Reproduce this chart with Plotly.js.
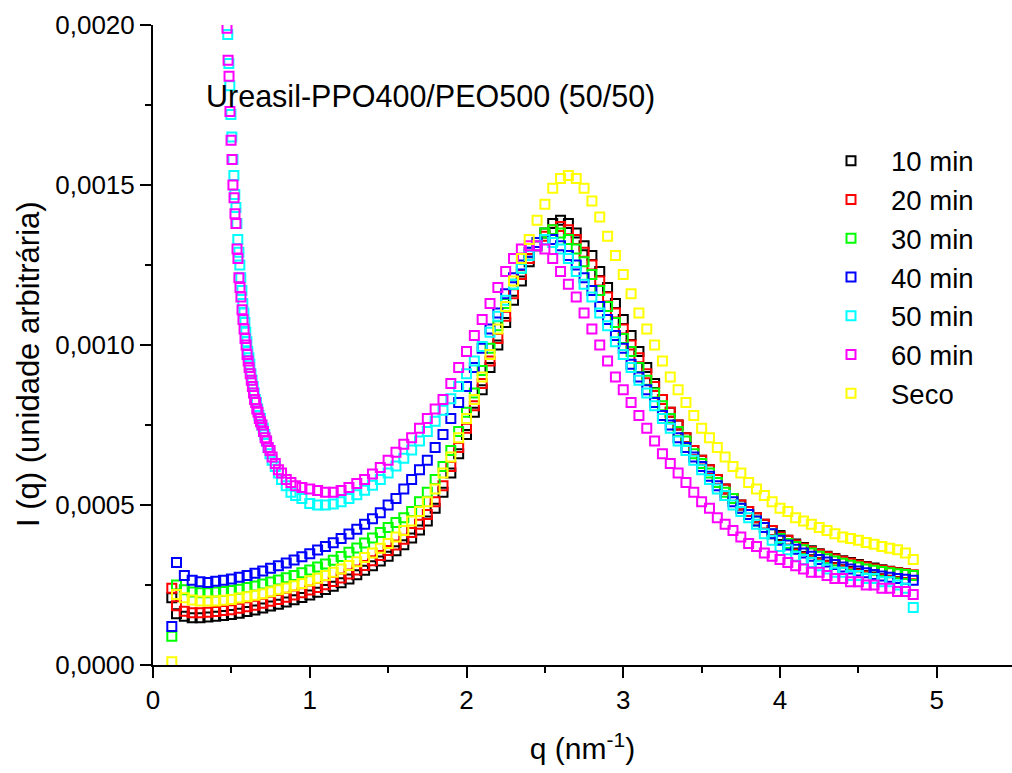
<!DOCTYPE html>
<html><head><meta charset="utf-8">
<script src="https://cdn.plot.ly/plotly-3.0.1.min.js"></script>
<style>body{margin:0;background:#fff}#chart{width:1012px;height:773px}</style>
</head><body><div id="chart"></div>
<script>
// common q grid (nm^-1)
const q = [0.12,0.15,0.20,0.25,0.30,0.35,0.40,0.45,0.50,0.55,
 0.60,0.65,0.70,0.75,0.80,0.85,0.90,0.95,1.00,1.05,
 1.10,1.15,1.20,1.25,1.30,1.35,1.40,1.45,1.50,1.55,
 1.60,1.65,1.70,1.75,1.80,1.85,1.90,1.95,2.00,2.05,
 2.10,2.15,2.20,2.25,2.30,2.35,2.40,2.45,2.50,2.55,
 2.60,2.65,2.70,2.75,2.80,2.85,2.90,2.95,3.00,3.05,
 3.10,3.15,3.20,3.25,3.30,3.35,3.40,3.45,3.50,3.55,
 3.60,3.65,3.70,3.75,3.80,3.85,3.90,3.95,4.00,4.05,
 4.10,4.15,4.20,4.25,4.30,4.35,4.40,4.45,4.50,4.55,
 4.60,4.65,4.70,4.75,4.80,4.85];

const min10 = [0.00021,0.00016,0.000152,0.000148,0.000148,0.00015,0.000152,0.000155,0.000158,0.000162,
 0.000167,0.000172,0.000178,0.000184,0.00019,0.000197,0.000204,0.000211,0.000219,0.000227,
 0.000236,0.000246,0.000257,0.000269,0.000282,0.000296,0.00031,0.000325,0.00034,0.000357,
 0.000376,0.000397,0.000422,0.00045,0.00049,0.00054,0.0006,0.00066,0.00072,0.00079,
 0.00086,0.00093,0.001,0.00107,0.00114,0.0012,0.00126,0.00131,0.00135,0.00138,
 0.00139,0.00138,0.00135,0.00131,0.00128,0.00123,0.00118,0.00113,0.00108,0.00103,
 0.00098,0.00093,0.00088,0.00083,0.00079,0.00075,0.00071,0.00067,0.00064,0.00061,
 0.00058,0.00055,0.00052,0.0005,0.00048,0.00046,0.00044,0.00042,0.000405,0.00039,
 0.000378,0.000367,0.000357,0.000348,0.00034,0.000333,0.000326,0.00032,0.000314,0.000308,
 0.000303,0.000298,0.000293,0.000289,0.000285,0.00028];

const min20 = [0.00024,0.000185,0.000168,0.000163,0.000163,0.000165,0.000167,0.00017,0.000173,0.000177,
 0.000182,0.000187,0.000193,0.000199,0.000205,0.000212,0.000219,0.000226,0.000234,0.000242,
 0.000251,0.000261,0.000272,0.000284,0.000297,0.000311,0.000326,0.000342,0.000358,0.000375,
 0.000393,0.000414,0.00044,0.00047,0.00051,0.00056,0.00062,0.00068,0.00074,0.00081,
 0.00088,0.00095,0.00102,0.00109,0.00116,0.00122,0.00127,0.00131,0.00134,0.00136,
 0.00137,0.00136,0.00133,0.00129,0.00125,0.0012,0.00115,0.0011,0.00105,0.001,
 0.00096,0.00091,0.00087,0.00083,0.00079,0.00075,0.00071,0.00067,0.00064,0.00061,
 0.00058,0.00055,0.00052,0.0005,0.00048,0.00046,0.00044,0.00042,0.0004,0.00039,
 0.000375,0.000365,0.000355,0.000346,0.000338,0.000331,0.000324,0.000318,0.000312,0.000306,
 0.0003,0.000296,0.000292,0.000288,0.000285,0.000282];

const min30 = [0.00009,0.00025,0.000235,0.000228,0.000226,0.000226,0.000228,0.00023,0.000233,0.000237,
 0.000242,0.000247,0.000253,0.000259,0.000266,0.000273,0.00028,0.000288,0.000297,0.000306,
 0.000316,0.000327,0.000339,0.000352,0.000366,0.000381,0.000397,0.000414,0.00043,0.000445,
 0.00046,0.00048,0.00051,0.00054,0.00058,0.00062,0.00067,0.00073,0.00079,0.00085,
 0.00092,0.00099,0.00106,0.00113,0.00119,0.00124,0.00129,0.00132,0.00135,0.00136,
 0.00135,0.00133,0.0013,0.00126,0.00122,0.00117,0.00112,0.00107,0.00102,0.00098,
 0.00093,0.00089,0.00085,0.00081,0.00077,0.00073,0.0007,0.00066,0.00063,0.0006,
 0.00057,0.00054,0.00052,0.00049,0.00047,0.00045,0.00043,0.00041,0.000395,0.00038,
 0.00037,0.00036,0.00035,0.00034,0.000332,0.000325,0.000318,0.000312,0.000306,0.0003,
 0.000296,0.000292,0.000288,0.000285,0.000283,0.00028];

const min40 = [0.00012,0.00032,0.00028,0.000265,0.00026,0.000258,0.000262,0.000265,0.000269,0.000274,
 0.00028,0.000287,0.000294,0.000302,0.00031,0.000319,0.000328,0.000338,0.000348,0.000359,
 0.00037,0.000382,0.000395,0.000409,0.000424,0.00044,0.000457,0.000476,0.0005,0.00052,
 0.00055,0.00058,0.00061,0.00064,0.00068,0.00072,0.00077,0.00082,0.00087,0.00093,
 0.00099,0.00105,0.0011,0.00116,0.00121,0.00125,0.00129,0.00132,0.00133,0.00133,
 0.00131,0.00128,0.00125,0.00121,0.00117,0.00112,0.00108,0.00103,0.00099,0.00094,
 0.0009,0.00086,0.00082,0.00078,0.00075,0.00071,0.00068,0.00065,0.00062,0.00059,
 0.00056,0.00053,0.00051,0.00049,0.00047,0.00045,0.00043,0.00041,0.00039,0.000375,
 0.000362,0.00035,0.00034,0.00033,0.000322,0.000314,0.000306,0.0003,0.000294,0.000288,
 0.000283,0.000278,0.000274,0.00027,0.000268,0.000265];

// 50 min: steep low-q part, then values on q grid from 1.00
const q50low = [0.470,0.477,0.484,0.490,0.497,0.503,0.510,0.516,0.522,0.529,
 0.535,0.541,0.548,0.554,0.560,0.567,0.573,0.580,0.586,0.592,
 0.599,0.605,0.612,0.618,0.625,0.632,0.639,0.646,0.653,0.660,
 0.668,0.676,0.685,0.694,0.703,0.713,0.723,0.734,0.746,0.76,
 0.78,0.80,0.82,0.85,0.88,0.91,0.95];
const min50low = [0.00206,0.00197,0.00188,0.00181,0.00172,0.00165,0.00158,0.00153,0.00147,0.00143,
 0.00138,0.00133,0.00129,0.00125,0.00121,0.00117,0.00113,0.0011,0.00107,0.00104,
 0.00101,0.00098,0.00096,0.00094,0.00091,0.00089,0.00087,0.00085,0.00083,0.00082,
 0.0008,0.00078,0.00077,0.00075,0.00074,0.00072,0.0007,0.00068,0.00066,0.00064,
 0.00062,0.0006,0.00058,0.00056,0.00054,0.00053,0.00052];
const min50 = [0.000505,0.0005,
 0.0005,0.000503,0.00051,0.00052,0.000532,0.000546,0.000562,0.00058,0.0006,0.000622,
 0.000646,0.000672,0.0007,0.00073,0.000762,0.000796,0.000832,0.00087,0.00091,0.00095,
 0.000995,0.00104,0.00109,0.00114,0.00119,0.00124,0.00128,0.00131,0.00133,0.00132,
 0.0013,0.00127,0.00123,0.00119,0.00115,0.0011,0.00106,0.00101,0.00097,0.00093,
 0.00089,0.00085,0.00081,0.00077,0.00074,0.0007,0.00067,0.00064,0.00061,0.00058,
 0.00055,0.00053,0.0005,0.00048,0.00046,0.00044,0.00041,0.00039,0.00037,0.00036,
 0.00034,0.00033,0.00032,0.00031,0.0003,0.00029,0.00029,0.00028,0.00028,0.00027,
 0.00027,0.00026,0.00026,0.00025,0.00024,0.00018];

// 60 min
const q60low = [0.466,0.472,0.479,0.485,0.491,0.498,0.504,0.510,0.517,0.523,
 0.529,0.536,0.542,0.548,0.555,0.561,0.568,0.574,0.581,0.587,
 0.594,0.600,0.607,0.613,0.620,0.627,0.634,0.641,0.648,0.655,
 0.662,0.670,0.678,0.686,0.695,0.705,0.715,0.725,0.735,0.747,
 0.76,0.78,0.80,0.82,0.85,0.88,0.91,0.95];
const min60low = [0.00207,0.00199,0.00189,0.00184,0.00173,0.00164,0.00158,0.0015,0.00146,0.00141,
 0.00138,0.0013,0.00127,0.00121,0.00118,0.00115,0.00111,0.00108,0.00105,0.00102,
 0.001,0.00097,0.00095,0.00093,0.00091,0.00089,0.00087,0.00085,0.00083,0.00082,
 0.0008,0.00079,0.00077,0.00076,0.00075,0.00073,0.00071,0.0007,0.00068,0.00067,
 0.00065,0.00063,0.00061,0.0006,0.00058,0.00057,0.00056,0.000555];
const min60 = [0.00055,0.000545,
 0.00054,0.00054,0.000545,0.000555,0.000567,0.00058,0.000597,0.000617,0.00064,0.000665,
 0.00069,0.00071,0.00074,0.00077,0.0008,0.00083,0.00088,0.00093,0.00098,0.00103,
 0.00108,0.00113,0.00118,0.00123,0.00127,0.0013,0.00131,0.00131,0.0013,0.00127,
 0.00123,0.00119,0.00115,0.0011,0.00105,0.001,0.00095,0.0009,0.00086,0.00082,
 0.00078,0.00074,0.0007,0.00066,0.00063,0.0006,0.00057,0.00054,0.00051,0.00049,
 0.00046,0.00044,0.00042,0.0004,0.00038,0.00037,0.00035,0.00034,0.00033,0.00032,
 0.00031,0.0003,0.00029,0.00029,0.00028,0.00027,0.00027,0.00026,0.00026,0.00025,
 0.00025,0.00024,0.00024,0.00023,0.00023,0.00022];

const seco = [0.00001,0.00022,0.00021,0.000203,0.0002,0.0002,0.0002,0.000202,0.000205,0.000209,
 0.000213,0.000218,0.000223,0.000229,0.000235,0.000241,0.000248,0.000255,0.000263,0.000271,
 0.00028,0.00029,0.0003,0.000311,0.000323,0.000336,0.00035,0.000365,0.00038,0.0004,
 0.00042,0.00045,0.00048,0.00051,0.00055,0.0006,0.00065,0.00071,0.00077,0.00083,
 0.0009,0.00097,0.00105,0.00112,0.0012,0.00127,0.00133,0.00139,0.00144,0.00149,
 0.00152,0.00153,0.00152,0.00149,0.00145,0.0014,0.00134,0.00128,0.00122,0.00116,
 0.0011,0.00105,0.001,0.00095,0.0009,0.00086,0.00082,0.00078,0.00074,0.00071,
 0.00068,0.00065,0.00062,0.0006,0.00057,0.00055,0.00053,0.00051,0.00049,0.00048,
 0.00046,0.00045,0.00044,0.00043,0.00042,0.00041,0.0004,0.000395,0.00039,0.000383,
 0.000377,0.00037,0.000365,0.00036,0.00035,0.00033];

const names = ['10 min','20 min','30 min','40 min','50 min','60 min','Seco'];
const colors = ['#000000','#ff0000','#00ff00','#0000ff','#00ffff','#ff00ff','#ffff00'];

const qHigh = q.filter(v => v >= 1.0);
const xs = [q, q, q, q, q50low.concat(qHigh), q60low.concat(qHigh), q];
const ys = [min10, min20, min30, min40, min50low.concat(min50), min60low.concat(min60), seco];

const traces = names.map((n, i) => ({
  type: 'scatter', mode: 'markers', name: n, x: xs[i], y: ys[i],
  marker: {symbol: 'square-open', size: 9, color: colors[i], line: {width: 2, color: colors[i]}}
}));

const axisCommon = {
  showgrid: false, zeroline: false, showline: true, linecolor: '#000', linewidth: 2,
  ticks: 'outside', ticklen: 11, tickwidth: 2, tickcolor: '#000',
  tickfont: {size: 26, color: '#000'}
};

const layout = {
  width: 1012, height: 773,
  margin: {l: 153, r: 0, t: 25, b: 108, pad: 0},
  paper_bgcolor: '#ffffff', plot_bgcolor: '#ffffff',
  separators: ',.',
  font: {family: '"Liberation Sans", Arial, sans-serif', color: '#000'},
  showlegend: true,
  legend: {x: 0.766, y: 0.826, xanchor: 'left', yanchor: 'top', bgcolor: 'rgba(0,0,0,0)',
           font: {size: 27.5, color: '#000'}, itemwidth: 70},
  xaxis: Object.assign({}, axisCommon, {
    range: [0, 5.48], tick0: 0, dtick: 1,
    minor: {dtick: 0.5, ticks: 'outside', ticklen: 6, tickwidth: 2, tickcolor: '#000'},
    title: {text: 'q (nm<sup>-1</sup>)', font: {size: 30, color: '#000'}, standoff: 24}
  }),
  yaxis: Object.assign({}, axisCommon, {
    range: [0, 0.002], tick0: 0, dtick: 0.0005, tickformat: '.4f',
    minor: {dtick: 0.00025, ticks: 'outside', ticklen: 6, tickwidth: 2, tickcolor: '#000'}
  }),
  annotations: [{
    text: 'Ureasil-PPO400/PEO500 (50/50)', xref: 'paper', yref: 'paper',
    x: 0.0595, y: 0.889, xanchor: 'left', yanchor: 'middle', showarrow: false,
    font: {size: 30.5, color: '#000'}
  }, {
    text: 'I (q) (unidade arbitrária)', xref: 'paper', yref: 'paper',
    x: -0.1455, y: 0.4703, xanchor: 'center', yanchor: 'middle', textangle: -90,
    showarrow: false, font: {size: 31, color: '#000'}
  }]
};

Plotly.newPlot('chart', traces, layout, {displayModeBar: false, staticPlot: true});
</script>
</body></html>
